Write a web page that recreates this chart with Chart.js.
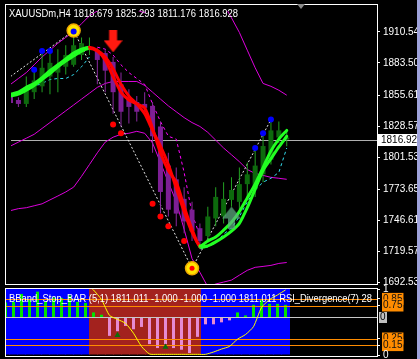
<!DOCTYPE html>
<html><head><meta charset="utf-8">
<script src="https://cdn.jsdelivr.net/npm/chart.js@4/dist/chart.umd.min.js"></script>
<style>
html,body{margin:0;padding:0;background:#000;width:420px;height:359px;overflow:hidden}
canvas{position:absolute;left:0;top:0}
#strip{position:absolute;right:0;top:0;width:3px;height:359px;background:#9fa3dc}
</style></head><body>
<canvas id="main" width="420" height="359"></canvas>
<canvas id="sub" width="420" height="359"></canvas>
<div id="strip"></div>
<script>
// ---------- data ----------
const symbolTitle = 'XAUUSDm,H4 1818.679 1825.293 1811.176 1816.928';
const subTitle = 'BBand_Stop_BAR (5,1) 1811.011 -1.000 -1.000 -1.000 1811.011 RSI_Divergence(7) 28';
const lastPrice = 1816.928;
const priceTicks = [1910.54,1883.50,1855.61,1828.57,1801.53,1773.65,1746.61,1719.57,1692.53];
const priceTickLabels = ['1910.54','1883.50','1855.61','1828.57','1801.53','1773.65','1746.61','1719.57','1692.53'];
const bars = Array.from({length:36},(_,i)=>i);

const open  = [1854.7,1851.3,1847.9,1858.1,1863.2,1871.7,1875.1,1880.2,1881.9,1890.4,1894.6,1894.6,1892.1,1884.4,1864.9,1852.1,1849.6,1847.9,1846.2,1828.3,1794.3,1782.4,1765.4,1756.0,1739.9,1733.1,1748.4,1750.1,1764.5,1762.8,1778.2,1773.9,1786.7,1799.4,1824.9,1818.679];
const close = [1848.7,1847.9,1861.5,1868.3,1879.3,1883.6,1880.2,1890.4,1898.9,1900.6,1897.2,1886.1,1876.8,1858.1,1841.1,1845.3,1841.1,1844.5,1819.8,1771.4,1756.0,1752.6,1745.8,1737.3,1728.8,1750.1,1767.1,1765.4,1773.1,1778.2,1786.7,1794.3,1811.3,1824.9,1818.7,1816.928];
const high  = [1858.1,1853.8,1871.7,1876.8,1892.9,1893.8,1895.5,1898.9,1910.0,1905.7,1905.7,1896.3,1894.6,1888.7,1875.1,1860.6,1854.7,1858.1,1849.6,1832.6,1805.4,1792.6,1775.6,1762.8,1744.1,1758.6,1775.6,1779.9,1784.1,1792.6,1796.9,1807.9,1820.7,1832.6,1832.6,1825.293];
const low   = [1846.2,1845.3,1845.3,1852.1,1858.1,1856.4,1858.1,1873.4,1880.2,1886.1,1890.4,1864.9,1858.1,1839.4,1828.3,1830.9,1832.6,1841.1,1805.4,1752.6,1750.1,1741.6,1735.6,1728.8,1722.0,1727.1,1741.6,1744.1,1758.6,1754.3,1767.1,1767.1,1779.9,1795.2,1813.9,1811.176];
const candleTrend = ['dn','dn','up','up','up','up','up','up','up','up','up','dn','dn','dn','dn','dn','dn','dn','dn','dn','dn','dn','dn','dn','dn','up','up','up','up','up','up','up','up','up','up','up'];

const bbUpper = [1864.9,1870.0,1875.1,1881.9,1888.7,1894.6,1900.6,1905.7,1910.8,1917.6,1924.4,1928.7,1930.4,1931.2,1930.4,1930.4,1929.5,1927.0,1937.2,1958.4,1975.4,1983.9,1988.2,1983.9,1975.4,1966.9,1954.2,1934.6,1922.7,1910.0,1894.6,1879.3,1865.7,1863.2,1859.8,1855.5];
const bbMiddle = [1811.3,1814.7,1818.1,1821.5,1826.6,1831.7,1836.8,1841.9,1847.0,1852.1,1857.2,1862.3,1865.7,1867.4,1867.4,1867.4,1867.4,1864.0,1858.1,1852.1,1846.2,1841.1,1836.0,1831.7,1828.3,1823.2,1816.4,1809.6,1803.7,1797.7,1790.9,1787.5,1785.8,1784.1,1783.3,1782.4];
const bbLower = [1755.2,1756.9,1757.7,1759.4,1761.1,1764.5,1767.9,1771.4,1775.6,1785.0,1795.2,1805.4,1814.7,1819.0,1821.5,1822.4,1824.1,1822.4,1813.9,1796.9,1779.9,1762.8,1739.0,1713.5,1701.6,1688.9,1691.4,1693.1,1694.8,1699.1,1703.3,1705.9,1706.7,1707.6,1709.3,1710.1];

const stopDown = [null,null,null,null,null,null,null,null,null,null,null,1897.2,1895.5,1890.4,1881.9,1875.1,1870.0,1864.9,1847.9,1832.6,1819.8,1817.3,1788.4,1752.6,1733.1,null,null,null,null,null,null,null,null,null,null,null];
const stopUpA = [null,null,1860.6,1863.2,1865.7,1869.1,1870.0,1870.0,1873.4,1880.2,1888.7,null,null,null,null,null,null,null,null,null,null,null,null,null,null,null,null,null,null,null,null,null,null,null,null,null];
const stopUpB = [null,null,null,null,null,null,null,null,null,null,null,null,null,null,null,null,null,null,null,null,null,null,null,null,1722.0,1723.7,1727.1,1734.8,1739.9,1750.1,1762.8,1773.1,1779.9,1783.3,1788.4,1809.6];

const maFast = [1856.4,1858.1,1862.3,1865.7,1870.8,1876.8,1881.9,1887.0,1892.1,1895.5,1897.2,1894.6,1888.7,1878.5,1864.9,1854.7,1847.9,1839.4,1824.9,1811.3,1795.2,1774.8,1754.3,1736.5,1724.6,1728.8,1732.2,1738.2,1745.0,1754.3,1766.2,1778.2,1792.6,1807.1,1817.3,1824.9];
const maSlow = [1854.7,1856.4,1859.8,1864.0,1869.1,1874.2,1880.2,1885.3,1889.5,1893.8,1896.3,1893.8,1886.1,1871.7,1858.1,1851.3,1847.9,1844.5,1826.6,1805.4,1790.1,1779.9,1758.6,1739.0,1723.7,1724.6,1728.0,1732.2,1737.3,1744.1,1757.7,1773.9,1790.1,1800.3,1810.5,1819.8];
const maTrend = ['up','up','up','up','up','up','up','up','up','up','dn','dn','dn','dn','dn','dn','dn','dn','dn','dn','dn','dn','dn','dn','up','up','up','up','up','up','up','up','up','up','up','up'];

const zigzagIdx = [0, 8, 23, 33];
const zigzagVal = [1871.7, 1911.6, 1705.0, 1834.3];
const blueDotIdx = [3, 4, 5, 8, 31, 32, 33];
const blueDotVal = [1877.6, 1893.8, 1893.8, 1910.8, 1809.6, 1822.4, 1834.3];
const redDotIdx = [13, 14, 18, 19, 20, 22];
const redDotVal = [1830.0, 1822.4, 1761.1, 1750.1, 1741.6, 1728.8];
const swingIdx = [8, 23];
const swingVal = [1911.6, 1705.0];
const sellArrowIdx = [13]; const sellArrowVal = [1902.3];
const buyArrowIdx = [28];  const buyArrowVal = [1749.2];

// sub window
const zoneTrend = ['up','up','up','up','up','up','up','up','up','up','up','dn','dn','dn','dn','dn','dn','dn','dn','dn','dn','dn','dn','dn','dn','up','up','up','up','up','up','up','up','up','up','up'];
const histValues = [0.44,0.46,0.70,0.52,0.77,0.46,0.59,0.58,0.65,0.46,0.43,0.14,0.07,-0.57,-0.43,-0.27,-0.37,-0.30,-0.82,-0.94,-0.82,-0.94,-0.99,-1.09,-0.60,-0.22,-0.22,-0.16,-0.10,0.14,0.05,0.37,0.55,0.40,0.40,0.37];
const rsiValues = [null,null,null,null,null,null,null,null,null,null,1.1,0.985,0.84,0.60,0.54,0.48,0.33,0.13,0.015,0.01,0.01,0.01,0.01,0.01,0.01,0.01,0.045,0.09,0.13,0.24,0.31,0.43,0.72,0.84,0.91,0.985];
const subMarkIdx = [14, 20]; const subMarkVal = [0.30, 0.12];
const levelValues = [0.85, 0.75, 0.25, 0.15];
const subTicks = [1, 0.85, 0.75, 0.25, 0.15, 0];
const subTickLabels = ['1','0.85','0.75','0.25','0.15','0'];

// ---------- helpers ----------
const FONT = '"Liberation Sans", Arial, sans-serif';
const pts = (idx, vals) => idx.map((x,k)=>({x, y: vals[k]}));
const series = arr => bars.map(i=>({x:i, y: arr[i]}));
function arrowImg(dir, color){
  const c=document.createElement('canvas'); c.width=19; c.height=22;
  const g=c.getContext('2d'); g.fillStyle=color; g.beginPath();
  if(dir==='down'){ g.moveTo(5.5,0); g.lineTo(13.5,0); g.lineTo(13.5,10); g.lineTo(19,10); g.lineTo(9.5,22); g.lineTo(0,10); g.lineTo(5.5,10); }
  else { g.moveTo(6,22); g.lineTo(13,22); g.lineTo(13,12); g.lineTo(19,12); g.lineTo(9.5,0); g.lineTo(0,12); g.lineTo(6,12); }
  g.closePath(); g.fill(); return c;
}
function fitText(ctx, text, x, y, w, font, color){
  ctx.save(); ctx.font = font; ctx.fillStyle = color; ctx.textBaseline='alphabetic';
  const m = ctx.measureText(text).width; ctx.translate(x,y); ctx.scale(w/m,1); ctx.fillText(text,0,0); ctx.restore();
}
const XMIN = 0.0625, XMAX = 46.4375;

// ---------- main chart ----------
const mainDeco = {
  id:'mainDeco',
  beforeDatasetsDraw(chart){
    const {ctx, chartArea:a, scales:{y}} = chart;
    const py = Math.round(y.getPixelForValue(lastPrice)) + 0.5;
    ctx.save(); ctx.strokeStyle='#b0b0b0'; ctx.lineWidth=1;
    ctx.beginPath(); ctx.moveTo(a.left,py); ctx.lineTo(a.right,py); ctx.stroke(); ctx.restore();
  },
  afterDraw(chart){
    const {ctx, scales:{y}} = chart;
    ctx.save();
    ctx.strokeStyle='#fff'; ctx.lineWidth=1; ctx.strokeRect(5.5,4.5,372,280);
    fitText(ctx, symbolTitle, 9, 17, 229, '10px '+FONT, '#fff');
    const py = Math.round(y.getPixelForValue(lastPrice));
    ctx.fillStyle='#fff'; ctx.fillRect(378, py-6, 42, 12);
    ctx.fillStyle='#000'; ctx.font='10px '+FONT; ctx.textBaseline='middle'; ctx.fillText(lastPrice.toFixed(3), 381, py);
    ctx.fillStyle='#8a8a8a'; ctx.beginPath(); ctx.moveTo(297,4); ctx.lineTo(305,4); ctx.lineTo(301,9); ctx.closePath(); ctx.fill();
    ctx.restore();
  }
};

const lineBase = {type:'line', pointRadius:0, borderWidth:1, clip:0, tension:0};
new Chart(document.getElementById('main'), {
  type:'bar',
  data:{datasets:[
    {...lineBase, data:series(bbUpper), borderColor:'#dd00dd', order:20},
    {...lineBase, data:series(bbMiddle), borderColor:'#dd00dd', order:20},
    {...lineBase, data:series(bbLower), borderColor:'#dd00dd', order:20},
    {...lineBase, data:series(stopDown), borderColor:'#ff00ff', borderDash:[3,3], order:19},
    {...lineBase, data:series(stopUpA), borderColor:'#33ddee', borderDash:[3,3], order:19},
    {...lineBase, data:series(stopUpB), borderColor:'#33ddee', borderDash:[3,3], order:19},
    {...lineBase, data:pts(zigzagIdx, zigzagVal), borderColor:'#e6e6e6', borderDash:[2,2], spanGaps:true, order:18},
    {type:'bar', data:bars.map(i=>({x:i,y:[low[i],high[i]]})), barThickness:1, grouped:false, inflateAmount:0, borderWidth:0, clip:0,
      backgroundColor:bars.map(i=>candleTrend[i]==='up'?'#22a022':'#8a2aa0'), order:15},
    {type:'bar', data:bars.map(i=>({x:i,y:[open[i],close[i]]})), barThickness:5, grouped:false, inflateAmount:0, borderWidth:0, clip:0,
      backgroundColor:bars.map(i=>candleTrend[i]==='up'?'#0d6a0d':'#7d1f95'), order:14},
    {...lineBase, data:series(maSlow), borderWidth:3, tension:0.25, borderCapStyle:'round', borderJoinStyle:'round',
      borderColor:'#00ff00', segment:{borderColor:c=>maTrend[c.p0DataIndex]==='dn'?'#ff0000':'#22ff22'}, order:10},
    {...lineBase, data:series(maFast), borderWidth:3, tension:0.25, borderCapStyle:'round', borderJoinStyle:'round',
      borderColor:'#00ff00', segment:{borderColor:c=>maTrend[c.p0DataIndex]==='dn'?'#ff0000':'#22ff22'}, order:9},
    {type:'line', showLine:false, data:pts(swingIdx, swingVal), pointRadius:6.5, pointBackgroundColor:'#ffe400', pointBorderColor:'#f0a800', pointBorderWidth:1.5, order:4},
    {type:'line', showLine:false, data:pts(blueDotIdx, blueDotVal), pointRadius:3, pointBackgroundColor:'#0000ff', pointBorderWidth:0, order:3},
    {type:'line', showLine:false, data:pts(redDotIdx, redDotVal), pointRadius:3, pointBackgroundColor:'#ff0000', pointBorderWidth:0, order:3},
    {type:'line', showLine:false, data:pts([swingIdx[1]],[swingVal[1]]), pointRadius:2.5, pointBackgroundColor:'#ff0000', pointBorderWidth:0, order:2},
    {type:'line', showLine:false, data:pts(sellArrowIdx, sellArrowVal), pointRadius:10, pointStyle:arrowImg('down','#ff1a10'), order:1},
    {type:'line', showLine:false, data:pts(buyArrowIdx, buyArrowVal), pointRadius:10, pointStyle:arrowImg('up','rgba(95,175,130,0.72)'), order:1}
  ]},
  options:{
    responsive:false, animation:false, devicePixelRatio:1, events:[],
    layout:{padding:{left:6, top:5, right:0, bottom:75}},
    plugins:{legend:{display:false}, tooltip:{enabled:false}},
    scales:{
      x:{type:'linear', min:XMIN, max:XMAX, display:false, offset:false},
      y:{position:'right', min:1691.42, max:1928.65,
        afterFit:s=>{s.width=43; s.paddingTop=0; s.paddingBottom=0;},
        afterBuildTicks:s=>{s.ticks=priceTicks.map(v=>({value:v}));},
        ticks:{autoSkip:false, color:'#fff', padding:3, font:{family:FONT, size:10}, callback:(v,i)=>priceTickLabels[i]},
        grid:{display:true, drawOnChartArea:false, drawTicks:true, tickLength:3, color:'#fff'},
        border:{display:false}}
    }
  },
  plugins:[mainDeco]
});

// ---------- sub chart ----------
const subDeco = {
  id:'subDeco',
  beforeDatasetDraw(chart, args){
    if(args.index!==2) return;
    const {ctx, chartArea:a, scales:{y, yh}} = chart;
    ctx.save(); ctx.lineWidth=1;
    ctx.strokeStyle='#ff8c00';
    levelValues.forEach(v=>{const p=Math.round(y.getPixelForValue(v))+0.5; ctx.beginPath(); ctx.moveTo(a.left,p); ctx.lineTo(a.right,p); ctx.stroke();});
    const z=Math.round(yh.getPixelForValue(0))+0.5;
    ctx.strokeStyle='#c8c8c8'; ctx.beginPath(); ctx.moveTo(a.left,z); ctx.lineTo(a.right,z); ctx.stroke();
    ctx.restore();
  },
  afterDraw(chart){
    const {ctx, scales:{yh}} = chart;
    ctx.save();
    ctx.strokeStyle='#fff'; ctx.lineWidth=1; ctx.strokeRect(5.5,288.5,372,68);
    fitText(ctx, subTitle, 9, 302, 363, '10px '+FONT, '#fff');
    const z=Math.round(yh.getPixelForValue(0));
    ctx.fillStyle='#c0c0c0'; ctx.fillRect(379, z-5, 8, 11);
    ctx.fillStyle='#000'; ctx.font='10px '+FONT; ctx.textBaseline='middle'; ctx.fillText('0', 380, z);
    ctx.restore();
  }
};

new Chart(document.getElementById('sub'), {
  type:'bar',
  data:{datasets:[
    {type:'bar', data:bars.map(i=>({x:i,y:[0,1]})), barThickness:9, grouped:false, inflateAmount:0, borderWidth:0, clip:0,
      backgroundColor:bars.map(i=>zoneTrend[i]==='dn'?'#a3221e':'#0000ff'), order:10},
    {type:'bar', yAxisID:'yh', data:bars.map(i=>({x:i,y:[0,histValues[i]]})), barThickness:3, grouped:false, inflateAmount:0, borderWidth:0, clip:0,
      backgroundColor:bars.map(i=>histValues[i]>=0?'#00e600':'#e68ad2'), order:9},
    {type:'line', data:series(rsiValues), borderColor:'#ffff00', borderWidth:1, pointRadius:0, tension:0.2, clip:0, order:2},
    {type:'line', showLine:false, data:pts(subMarkIdx, subMarkVal), pointStyle:'triangle', pointRadius:3.5, pointBackgroundColor:'#0b6e0b', pointBorderWidth:0, order:1}
  ]},
  options:{
    responsive:false, animation:false, devicePixelRatio:1, events:[],
    layout:{padding:{left:6, top:289, right:0, bottom:3}},
    plugins:{legend:{display:false}, tooltip:{enabled:false}},
    scales:{
      x:{type:'linear', min:XMIN, max:XMAX, display:false, offset:false},
      y:{position:'right', min:0, max:1,
        afterFit:s=>{s.width=43; s.paddingTop=0; s.paddingBottom=0;},
        afterBuildTicks:s=>{s.ticks=subTicks.map(v=>({value:v}));},
        ticks:{autoSkip:false, padding:3, font:{family:FONT, size:10},
          color:c=>(c.index===0||c.index===5)?'#fff':'#111',
          showLabelBackdrop:c=>!(c.index===0||c.index===5),
          backdropColor:'#ff8c00', backdropPadding:{left:1,right:1,top:0,bottom:0},
          callback:(v,i)=>subTickLabels[i]},
        grid:{display:true, drawOnChartArea:false, drawTicks:true, tickLength:3, color:'#fff'},
        border:{display:false}},
      yh:{position:'right', min:-1.15, max:0.85, display:false}
    }
  },
  plugins:[subDeco]
});
</script></body></html>
